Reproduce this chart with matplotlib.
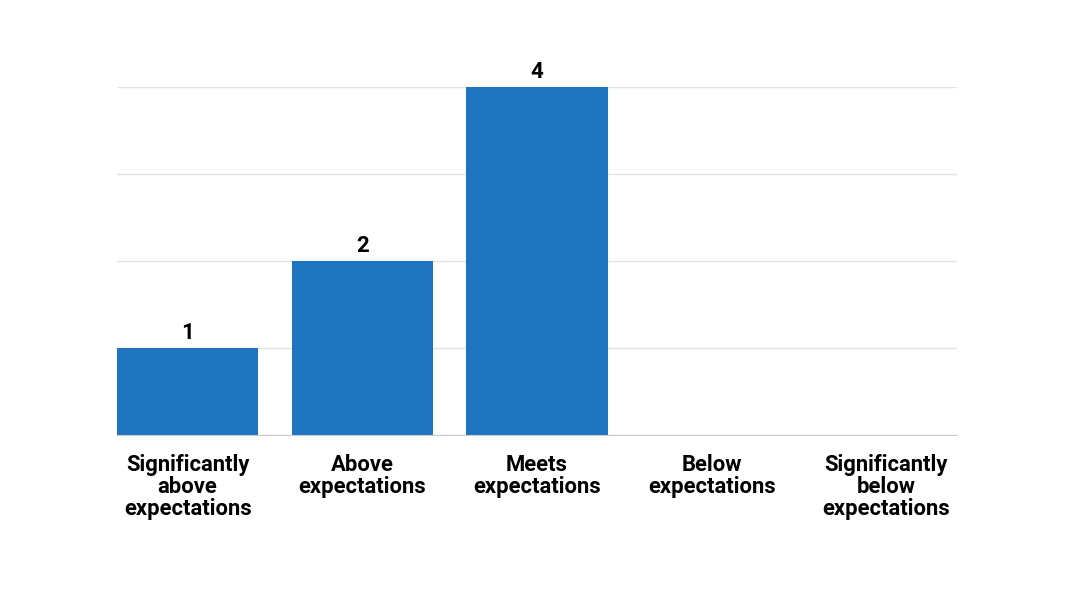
import matplotlib.pyplot as plt

# =========================
# DATA
# =========================

categories = ["Significantly\nabove\nexpectations", "Above\nexpectations",
              "Meets\nexpectations", "Below\nexpectations",
              "Significantly\nbelow\nexpectations"]
values = [1, 2, 4, 0, 0]

# =========================
# FIGURE
# =========================

plt.rcParams['font.family'] = ['Roboto', 'DejaVu Sans']

fig = plt.figure(figsize=(10.8, 6), dpi=100)
ax = fig.add_axes([117 / 1080, 1 - 435 / 600, 840 / 1080, 348 / 600])

x = range(len(categories))
bars = ax.bar(x, values, width=0.808, color="#1f74bf", zorder=3)

for i, v in enumerate(values):
    if v > 0:
        ax.annotate(str(v), (i, v), xytext=(0, 3), textcoords="offset points",
                    ha="center", va="bottom", fontsize=16, fontweight="bold",
                    color="black")

ax.set_xlim(-0.404, 4.404)
ax.set_ylim(0, 4)
ax.set_yticks([0, 1, 2, 3, 4])
ax.set_yticklabels([])
ax.yaxis.grid(True, color="#e3e3e3", linewidth=1, zorder=0)
ax.tick_params(axis="y", length=0)
ax.set_xticks(list(x))
ax.set_xticklabels(categories, fontsize=15.8, fontweight="bold",
                   linespacing=1.0)
ax.tick_params(axis="x", length=0, pad=14)

for side in ["top", "right", "left"]:
    ax.spines[side].set_visible(False)
ax.spines["bottom"].set_color("#cccccc")
ax.spines["bottom"].set_zorder(4)

fig.savefig("out.png", dpi=100, facecolor="white")
